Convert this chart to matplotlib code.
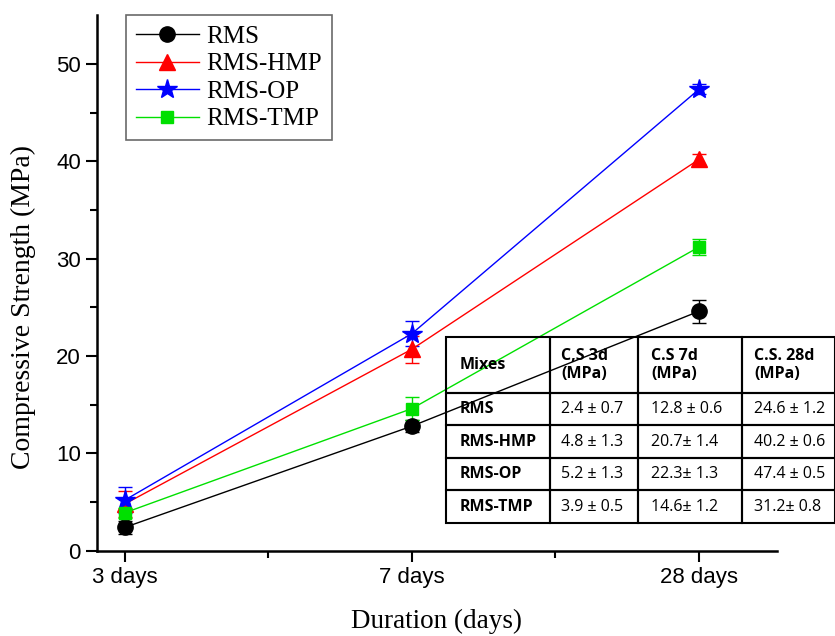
import numpy as np
import matplotlib
matplotlib.use("Agg")
import matplotlib.pyplot as plt

durations = ["3 days", "7 days", "28 days"]
mixes = ["RMS", "RMS-HMP", "RMS-OP", "RMS-TMP"]
rms = [2.4, 12.8, 24.6]
rms_err = [0.7, 0.6, 1.2]
hmp = [4.8, 20.7, 40.2]
hmp_err = [1.3, 1.4, 0.6]
op = [5.2, 22.3, 47.4]
op_err = [1.3, 1.3, 0.5]
tmp = [3.9, 14.6, 31.2]
tmp_err = [0.5, 1.2, 0.8]

table_head = ["Mixes", "C,S 3d\n(MPa)", "C.S 7d\n(MPa)", "C.S. 28d\n(MPa)"]
table_rows = [
    ["RMS", "2.4 \u00b1 0.7", "12.8 \u00b1 0.6", "24.6 \u00b1 1.2"],
    ["RMS-HMP", "4.8 \u00b1 1.3", "20.7\u00b1 1.4", "40.2 \u00b1 0.6"],
    ["RMS-OP", "5.2 \u00b1 1.3", "22.3\u00b1 1.3", "47.4 \u00b1 0.5"],
    ["RMS-TMP", "3.9 \u00b1 0.5", "14.6\u00b1 1.2", "31.2\u00b1 0.8"],
]

series = [
    (rms, rms_err, "black", "o", 11),
    (hmp, hmp_err, "red", "^", 11),
    (op, op_err, "blue", "*", 15),
    (tmp, tmp_err, "#00e000", "s", 9),
]

fig = plt.figure(figsize=(8.35, 6.36), dpi=100)
ax = fig.add_axes([0.116, 0.134, 0.814, 0.842])
x = np.arange(len(durations))

for (vals, errs, col, mk, ms), name in zip(series, mixes):
    ax.errorbar(x, vals, yerr=errs, fmt="none", ecolor=col, capsize=5,
                elinewidth=1, zorder=3)
    ax.plot(x, vals, color=col, marker=mk, markersize=ms, linewidth=1,
            label=name, zorder=4)

ax.set_xlim(-0.097, 2.27)
ax.set_ylim(0, 55)
ax.set_xticks(x)
ax.set_xticklabels(durations)
ax.set_xticks([0.5, 1.5], minor=True)
ax.set_yticks([0, 10, 20, 30, 40, 50])
ax.set_yticks([5, 15, 25, 35, 45], minor=True)
for lab in ax.get_xticklabels() + ax.get_yticklabels():
    lab.set_fontfamily("Liberation Sans")
    lab.set_fontsize(16)
ax.tick_params(which="major", length=8, width=1.5, direction="out")
ax.tick_params(which="minor", length=5, width=1.5, direction="out")
ax.spines["top"].set_visible(False)
ax.spines["right"].set_visible(False)
ax.spines["left"].set_linewidth(1.8)
ax.spines["bottom"].set_linewidth(1.8)

ax.set_xlabel("Duration (days)", fontfamily="Liberation Serif", fontsize=19.5, labelpad=15)
ax.set_ylabel("Compressive Strength (MPa)", fontfamily="Liberation Serif", fontsize=20)
ax.yaxis.set_label_coords(-0.09, 0.455)

leg = ax.legend(loc="upper left", bbox_to_anchor=(0.043, 1.0), borderaxespad=0,
                fancybox=False, edgecolor="#444444",
                prop={"family": "Liberation Serif", "size": 18},
                handlelength=2.5, handletextpad=0.3, labelspacing=0.2,
                borderpad=0.4)
leg.get_frame().set_linewidth(1.2)

# table overlay in figure coordinates
tax = fig.add_axes([0, 0, 1, 1])
tax.axis("off")
tab = tax.table(cellText=[table_head] + table_rows, cellLoc="left",
                bbox=[0.534, 0.178, 0.466, 0.292], colWidths=[104, 88, 104, 93])
tab.auto_set_font_size(False)
for (r, c), cell in tab.get_celld().items():
    cell.set_linewidth(1.5)
    cell.set_fill(False)
    cell.PAD = 0.13
    txt = cell.get_text()
    txt.set_fontfamily("Open Sans")
    txt.set_fontsize(11.5)
    if r == 0 or c == 0:
        txt.set_fontweight("bold")
for r in range(len(table_rows) + 1):
    h = 0.3 if r == 0 else 0.175
    for c in range(4):
        tab[r, c].set_height(h)

fig.savefig("out.png", dpi=100)
